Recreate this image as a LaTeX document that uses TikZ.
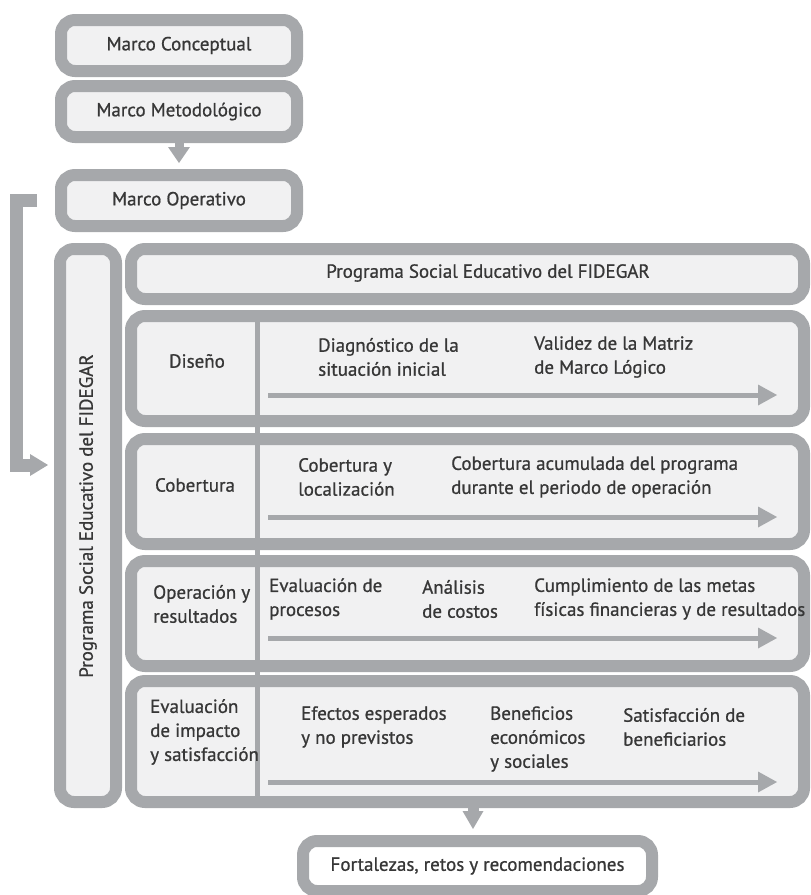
\documentclass[tikz,border=0pt]{standalone}
\usepackage{fontspec}
\setmainfont{PT Sans}[FakeBold=0.8]
\usetikzlibrary{arrows.meta,positioning}
\definecolor{anillo}{RGB}{166,168,171}
\definecolor{relleno}{RGB}{241,241,242}
\definecolor{letra}{RGB}{55,55,55}
\newcommand{\etiq}{\fontsize{19}{24}\selectfont}
\tikzset{
  caja/.style    ={draw=anillo, line width=12pt, fill=relleno, rounded corners=14pt, inner sep=0pt, text=letra, font=\etiq},
  txt/.style     ={inner sep=0pt, text=letra, font=\etiq, align=left, anchor=west},
  flecha/.style  ={draw=anillo, line width=9pt, -{Triangle[length=16pt,width=22pt,line width=0pt]}},
  flechita/.style={draw=anillo, line width=5pt, -{Triangle[length=19pt,width=21pt,line width=0pt]}},
  corchete/.style={draw=anillo, line width=13pt, line join=miter, -{Triangle[length=18pt,width=22pt,line width=0pt]}},
  divisor/.style ={draw=anillo, line width=5pt}
}

\begin{document}
\begin{tikzpicture}[x=1pt,y=-1pt]
\useasboundingbox (0,0) rectangle (811,895);
% marcos
\node[caja, minimum width=236pt, minimum height=51pt] (conc) at (179,45.5)  {Marco Conceptual};
\node[caja, minimum width=236pt, minimum height=51pt] (meto) at (179,111.5) {Marco Metodológico};
\node[caja, minimum width=236pt, minimum height=51pt] (oper) at (179,200.5) {Marco Operativo};
\draw[flecha, shorten >=6pt] (meto) -- (oper);

% programa
\node[caja, minimum width=56pt, minimum height=553pt] (vprog) at (88,525.5) {};
\node[txt, anchor=center, rotate=90] (vprogt) at (88,516) {Programa Social Educativo del FIDEGAR};
\node[caja, minimum width=673pt, minimum height=50pt]  (ptop) at (467.5,274)   {};
\node[txt, anchor=center] (ptopt) at (488,273) {Programa Social Educativo del FIDEGAR};
\node[caja, minimum width=673pt, minimum height=105pt] (dis)  at (467.5,368.5) {};
\node[caja, minimum width=673pt, minimum height=105pt] (cob)  at (467.5,491.5) {};
\node[caja, minimum width=673pt, minimum height=105pt] (ope)  at (467.5,613.5) {};
\node[caja, minimum width=673pt, minimum height=121pt] (eva)  at (467.5,741.5) {};
\draw[divisor] ([xshift=-210.5pt]dis.north) -- ([xshift=-210.5pt]eva.south);
\foreach \b/\d in {dis/26.5, cob/25.5, ope/24.5, eva/40.5}
  \draw[flechita] ([shift={(-199.5,\d)}]\b.center) -- ([shift={(309.5,\d)}]\b.center);

% retorno desde marco operativo
\coordinate (codo) at (16.5,465);
\draw[corchete, shorten >=6pt] ([xshift=-18pt]oper.west) -| (codo) -- (vprog.west |- codo);

% etapas
\node[txt, anchor=center] (disl) at (197,361) {Diseño};
\node[txt] (diag) at (318,357) {Diagnóstico de la\\situación inicial};
\node[txt] (vali) at (534,357) {Validez de la Matriz\\de Marco Lógico};
\node[txt, anchor=center] (cobl) at (195,485) {Cobertura};
\node[txt] (coby) at (298,477) {Cobertura y\\localización};
\node[txt] (acum) at (451,477) {Cobertura acumulada del programa\\durante el periodo de operación};
\node[txt] (opel) at (153,604) {Operación y\\resultados};
\node[txt] (proc) at (269,599) {Evaluación de\\procesos};
\node[txt] (cost) at (422,599) {Análisis\\de costos};
\node[txt] (meta) at (534,599) {Cumplimiento de las metas\\físicas financieras y de resultados};
\node[txt] (eval) at (150,732) {Evaluación\\de impacto\\y satisfacción};
\node[txt] (efec) at (301,727) {Efectos esperados\\y no previstos};
\node[txt] (bene) at (490,739) {Beneficios\\económicos\\y sociales};
\node[txt] (sati) at (623,727) {Satisfacción de\\beneficiarios};

% cierre
\node[caja, fill=white, minimum width=349pt, minimum height=50pt] (fort) at (477.5,866) {Fortalezas, retos y recomendaciones};
\draw[flecha, line width=11pt, -{Triangle[length=18pt,width=21pt,line width=0pt]}, shorten >=6pt]
  ([xshift=-4.5pt]fort.north |- eva.south) -- ([xshift=-4.5pt]fort.north);
\end{tikzpicture}
\end{document}
